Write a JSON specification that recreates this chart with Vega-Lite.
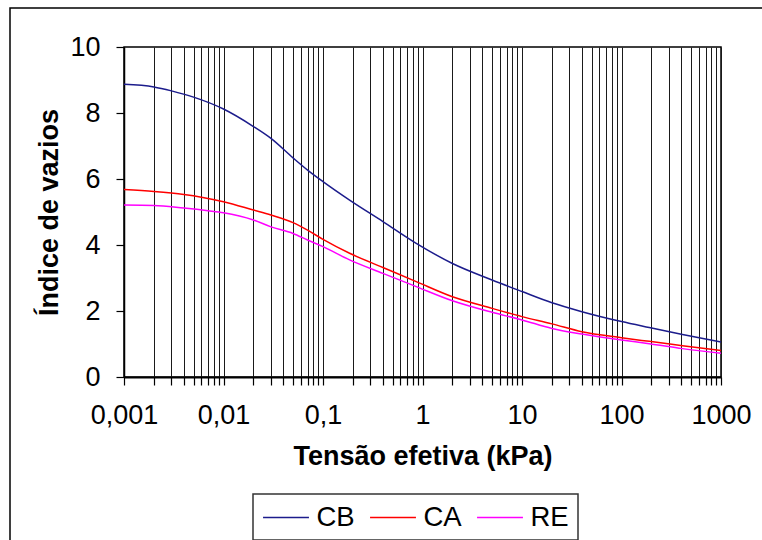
{
  "$schema": "https://vega.github.io/schema/vega-lite/v6.json",
  "autosize": {"type": "none"},
  "padding": {"left": 124, "top": 47, "right": 41, "bottom": 163},
  "width": 597,
  "height": 330,
  "background": "#ffffff",
  "layer": [
    {
      "data": {"values": [{}]},
      "mark": {"type": "rect", "fill": "transparent", "stroke": "#000", "strokeWidth": 1.5, "clip": false},
      "encoding": {
        "x": {"datum": 0.0000715, "type": "quantitative"},
        "x2": {"datum": 100000},
        "y": {"datum": 11.18, "type": "quantitative"},
        "y2": {"datum": -10}
      }
    },
    {
      "data": {
        "values": [
          {"x": 0.001, "e": 8.87, "s": "CB"},
          {"x": 0.002, "e": 8.79, "s": "CB"},
          {"x": 0.003, "e": 8.67, "s": "CB"},
          {"x": 0.005, "e": 8.48, "s": "CB"},
          {"x": 0.01, "e": 8.12, "s": "CB"},
          {"x": 0.02, "e": 7.59, "s": "CB"},
          {"x": 0.03, "e": 7.23, "s": "CB"},
          {"x": 0.05, "e": 6.64, "s": "CB"},
          {"x": 0.07, "e": 6.27, "s": "CB"},
          {"x": 0.1, "e": 5.92, "s": "CB"},
          {"x": 0.185, "e": 5.36, "s": "CB"},
          {"x": 0.4, "e": 4.71, "s": "CB"},
          {"x": 0.865, "e": 4.05, "s": "CB"},
          {"x": 2, "e": 3.44, "s": "CB"},
          {"x": 5, "e": 2.94, "s": "CB"},
          {"x": 10, "e": 2.59, "s": "CB"},
          {"x": 20, "e": 2.25, "s": "CB"},
          {"x": 40, "e": 1.98, "s": "CB"},
          {"x": 100, "e": 1.68, "s": "CB"},
          {"x": 190, "e": 1.5, "s": "CB"},
          {"x": 410, "e": 1.29, "s": "CB"},
          {"x": 1000, "e": 1.06, "s": "CB"},
          {"x": 0.001, "e": 5.68, "s": "CA"},
          {"x": 0.002, "e": 5.62, "s": "CA"},
          {"x": 0.004, "e": 5.53, "s": "CA"},
          {"x": 0.006, "e": 5.45, "s": "CA"},
          {"x": 0.01, "e": 5.31, "s": "CA"},
          {"x": 0.02, "e": 5.06, "s": "CA"},
          {"x": 0.03, "e": 4.91, "s": "CA"},
          {"x": 0.05, "e": 4.68, "s": "CA"},
          {"x": 0.07, "e": 4.45, "s": "CA"},
          {"x": 0.1, "e": 4.17, "s": "CA"},
          {"x": 0.185, "e": 3.75, "s": "CA"},
          {"x": 0.4, "e": 3.32, "s": "CA"},
          {"x": 0.865, "e": 2.89, "s": "CA"},
          {"x": 2, "e": 2.43, "s": "CA"},
          {"x": 5, "e": 2.08, "s": "CA"},
          {"x": 10, "e": 1.83, "s": "CA"},
          {"x": 20, "e": 1.61, "s": "CA"},
          {"x": 40, "e": 1.37, "s": "CA"},
          {"x": 100, "e": 1.19, "s": "CA"},
          {"x": 190, "e": 1.08, "s": "CA"},
          {"x": 410, "e": 0.95, "s": "CA"},
          {"x": 1000, "e": 0.8, "s": "CA"},
          {"x": 0.001, "e": 5.21, "s": "RE"},
          {"x": 0.002, "e": 5.2, "s": "RE"},
          {"x": 0.004, "e": 5.12, "s": "RE"},
          {"x": 0.007, "e": 5.04, "s": "RE"},
          {"x": 0.01, "e": 4.98, "s": "RE"},
          {"x": 0.02, "e": 4.76, "s": "RE"},
          {"x": 0.03, "e": 4.55, "s": "RE"},
          {"x": 0.05, "e": 4.35, "s": "RE"},
          {"x": 0.07, "e": 4.15, "s": "RE"},
          {"x": 0.1, "e": 3.95, "s": "RE"},
          {"x": 0.185, "e": 3.55, "s": "RE"},
          {"x": 0.4, "e": 3.14, "s": "RE"},
          {"x": 0.865, "e": 2.74, "s": "RE"},
          {"x": 2, "e": 2.31, "s": "RE"},
          {"x": 5, "e": 1.96, "s": "RE"},
          {"x": 10, "e": 1.73, "s": "RE"},
          {"x": 20, "e": 1.47, "s": "RE"},
          {"x": 40, "e": 1.3, "s": "RE"},
          {"x": 100, "e": 1.12, "s": "RE"},
          {"x": 190, "e": 1.01, "s": "RE"},
          {"x": 410, "e": 0.86, "s": "RE"},
          {"x": 1000, "e": 0.72, "s": "RE"}
        ]
      },
      "mark": {"type": "line", "interpolate": "monotone", "strokeWidth": 1.5},
      "encoding": {
        "x": {
          "field": "x",
          "type": "quantitative",
          "scale": {"type": "log", "domain": [0.001, 1000], "nice": false},
          "axis": {
            "title": "Tensão efetiva (kPa)",
            "values": [0.001,0.002,0.003,0.004,0.005,0.006,0.007,0.008,0.009,0.01,0.02,0.03,0.04,0.05,0.06,0.07,0.08,0.09,0.1,0.2,0.3,0.4,0.5,0.6,0.7,0.8,0.9,1,2,3,4,5,6,7,8,9,10,20,30,40,50,60,70,80,90,100,200,300,400,500,600,700,800,900,1000],
            "labelExpr": "indexof(['0.001','0.01','0.1','1','10','100','1000'], toString(datum.value)) >= 0 ? replace(toString(datum.value), '.', ',') : ''",
            "labelOverlap": false,
            "labelFlush": false,
            "labelBound": false,
            "grid": true,
            "gridColor": "#1a1a1a",
            "gridWidth": 1,
            "gridOpacity": 1,
            "tickSize": 8,
            "tickWidth": 1.2,
            "labelPadding": 17,
            "titlePadding": 15,
            "domainWidth": 1.8
          }
        },
        "y": {
          "field": "e",
          "type": "quantitative",
          "scale": {"domain": [0, 10], "nice": false, "zero": true},
          "axis": {
            "title": "Índice de vazios",
            "values": [0,0.5,1,1.5,2,2.5,3,3.5,4,4.5,5,5.5,6,6.5,7,7.5,8,8.5,9,9.5,10],
            "labelExpr": "datum.value % 2 == 0 ? datum.label : ''",
            "labelOverlap": false,
            "labelFlush": false,
            "grid": false,
            "tickSize": 8,
            "tickWidth": 1.2,
            "labelPadding": 16,
            "titlePadding": 6,
            "domainWidth": 1.5
          }
        },
        "color": {
          "field": "s",
          "type": "nominal",
          "scale": {"domain": ["CB", "CA", "RE"], "range": ["#1c1c8c", "#ff0000", "#ff00ff"]},
          "legend": {"title": null}
        }
      }
    }
  ],
  "config": {
    "view": {"stroke": "#000", "strokeWidth": 1.5},
    "axis": {
      "labelFont": "Liberation Sans",
      "titleFont": "Liberation Sans",
      "labelFontSize": 27,
      "titleFontSize": 27,
      "titleFontWeight": "bold",
      "labelColor": "#000",
      "titleColor": "#000",
      "domainColor": "#000",
      "tickColor": "#000"
    },
    "legend": {
      "orient": "none",
      "legendX": 129,
      "legendY": 447,
      "direction": "horizontal",
      "strokeColor": "#333",
      "strokeWidth": 1.5,
      "padding": 9,
      "symbolType": "M-1.7,0H1.7",
      "symbolSize": 729,
      "symbolOffset": 9.5,
      "symbolStrokeWidth": 1.5,
      "labelFont": "Liberation Sans",
      "labelFontSize": 27.5,
      "labelColor": "#000",
      "labelOffset": 16,
      "columnPadding": 12
    }
  }
}
